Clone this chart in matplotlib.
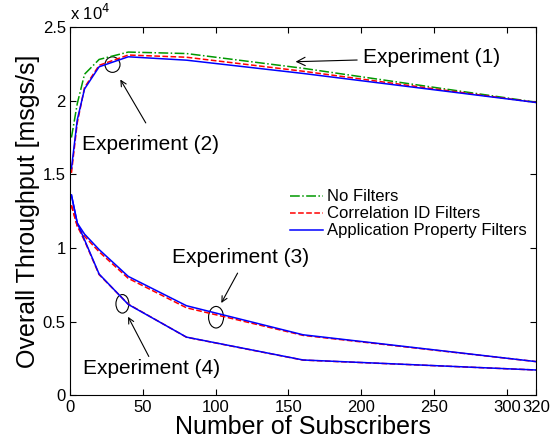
import matplotlib.pyplot as plt
from matplotlib.patches import Ellipse
from matplotlib.ticker import FuncFormatter

plt.rcParams['font.family'] = ['Liberation Sans', 'DejaVu Sans']

# number of subscribers
subs = [1, 5, 10, 20, 40, 80, 160, 320]

# experiments (1)/(2): throughput in msgs/s
top_none = [17500, 19800, 21800, 22800, 23300, 23200, 22200, 19900]
top_corr = [15100, 18500, 20900, 22400, 23100, 22950, 22000, 19880]
top_app = [15400, 18700, 20800, 22300, 22980, 22750, 21850, 19880]

# experiment (3)
e3_corr = [12900, 11500, 10800, 9750, 7950, 5950, 4080, 2300]
e3_app = [13600, 11700, 10950, 9900, 8080, 6090, 4120, 2300]

# experiment (4)
e4_corr = [12900, 11500, 10500, 8200, 6200, 3950, 2400, 1730]
e4_app = [13600, 11700, 10560, 8240, 6180, 3960, 2410, 1730]

xticks = [0, 50, 100, 150, 200, 250, 300, 320]
yticks = [0, 5000, 10000, 15000, 20000, 25000]

fig = plt.figure(figsize=(5.59, 4.48), dpi=100)
ax = fig.add_axes([0.1252, 0.1172, 0.8337, 0.8225])

green = (0, 0.6, 0)
lw = 1.1
ax.plot(subs, top_none, '-.', color=green, lw=lw, label='No Filters')
ax.plot(subs, top_corr, '--', color='red', lw=lw, label='Correlation ID Filters')
ax.plot(subs, top_app, '-', color='blue', lw=lw, label='Application Property Filters')
ax.plot(subs, e3_corr, '--', color='red', lw=lw)
ax.plot(subs, e3_app, '-', color='blue', lw=lw)
ax.plot(subs, e4_corr, '--', color='red', lw=lw)
ax.plot(subs, e4_app, '-', color='blue', lw=lw)

ax.set_xlim(0, 320)
ax.set_ylim(0, 25000)
ax.set_xticks(xticks)
ax.set_yticks(yticks)
ax.yaxis.set_major_formatter(FuncFormatter(lambda v, p: f"{v / 1e4:g}"))
ax.tick_params(direction='in', top=True, right=True, labelsize=12, length=4, pad=3)
ax.set_xlabel('Number of Subscribers', fontsize=18, labelpad=0)
ax.set_ylabel('Overall Throughput [msgs/s]', fontsize=18, labelpad=2)
ax.text(0.0, 1.01, r'x 10$^4$', transform=ax.transAxes, fontsize=12, va='bottom')

# annotations
arw = dict(arrowstyle='->', color='black', lw=0.8)
fs = 15
ax.annotate('Experiment (1)', xy=(153, 22640), xytext=(201, 22900),
            fontsize=fs, va='center', arrowprops=arw)
ax.annotate('', xy=(33.6, 21600), xytext=(53, 18330), arrowprops=arw)
ax.text(8.2, 17040, 'Experiment (2)', fontsize=fs, va='center')
ax.annotate('', xy=(103, 6110), xytext=(116, 8470), arrowprops=arw)
ax.text(70, 9350, 'Experiment (3)', fontsize=fs, va='center')
ax.annotate('', xy=(39, 5510), xytext=(55, 2480), arrowprops=arw)
ax.text(8.9, 1800, 'Experiment (4)', fontsize=fs, va='center')

for cx, cy, w, h in [(29.2, 22450, 10.3, 1054), (100.3, 5310, 10.3, 1463),
                     (36, 6220, 8.9, 1258)]:
    ax.add_patch(Ellipse((cx, cy), w, h, fill=False, edgecolor='black', lw=0.8))

ax.legend(loc='upper left', bbox_to_anchor=(0.44, 0.60), frameon=False,
          fontsize=12, handlelength=2.0, handletextpad=0.2, labelspacing=0.12)

fig.savefig('out.png', dpi=100)
